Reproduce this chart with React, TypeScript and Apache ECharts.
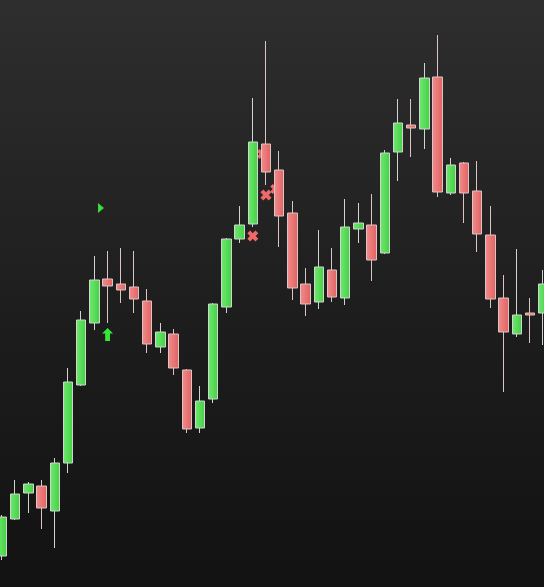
import React, { useEffect, useRef } from "react";
import * as echarts from "echarts";

// [open, close, low, high]
const ohlc: number[][] = [
  [103.1, 107.0, 102.7, 107.2],
  [106.8, 109.3, 106.7, 110.7],
  [109.4, 110.3, 107.4, 110.5],
  [110.1, 107.9, 105.8, 110.7],
  [107.6, 112.4, 103.9, 112.9],
  [112.4, 120.5, 111.4, 121.9],
  [120.2, 126.7, 120.1, 127.6],
  [126.4, 130.7, 125.7, 133.1],
  [130.8, 130.1, 126.4, 133.6],
  [130.3, 129.7, 128.4, 133.9],
  [130.0, 128.8, 127.4, 133.6],
  [128.6, 124.3, 123.4, 129.8],
  [124.0, 125.5, 123.4, 126.4],
  [125.3, 121.9, 121.2, 125.8],
  [121.7, 115.8, 115.4, 121.8],
  [115.9, 118.6, 115.4, 120.1],
  [118.8, 128.3, 118.4, 128.4],
  [128.0, 134.8, 127.4, 134.9],
  [134.8, 136.2, 134.4, 138.1],
  [136.3, 144.5, 136.0, 148.9],
  [144.3, 141.5, 140.2, 154.6],
  [141.7, 137.1, 134.0, 143.6],
  [137.4, 129.9, 128.7, 138.6],
  [130.3, 128.3, 127.1, 131.9],
  [128.5, 132.0, 127.8, 135.7],
  [131.7, 129.0, 128.5, 133.9],
  [128.9, 136.0, 128.2, 138.8],
  [135.8, 136.4, 134.4, 138.4],
  [136.2, 132.7, 130.6, 139.3],
  [133.4, 143.4, 133.3, 143.7],
  [143.5, 146.4, 140.6, 148.8],
  [146.2, 145.9, 143.0, 148.8],
  [145.8, 150.9, 143.8, 152.4],
  [151.0, 139.5, 139.0, 155.2],
  [139.4, 142.2, 139.2, 142.9],
  [142.4, 139.4, 136.4, 142.5],
  [139.6, 135.3, 133.5, 142.6],
  [135.2, 128.8, 127.9, 138.1],
  [128.9, 125.5, 119.5, 131.2],
  [125.3, 127.2, 125.0, 133.8],
  [127.4, 127.2, 124.4, 128.9],
  [127.4, 130.3, 124.2, 131.7],
];

// signal markers: [barIndex, price]
const buyArrows: number[][] = [[8, 125.25]];
const buyTriangles: number[][] = [[7.5, 137.9]];
const sellCrosses: number[][] = [
  [19, 135.1],
  [20, 139.2],
];
const hiddenCrosses: number[][] = [
  [19.7, 143.3],
  [20.7, 139.8],
];

const ARROW = "path://M5,0 L10,5.5 L7.2,5.5 L7.2,13 L2.8,13 L2.8,5.5 L0,5.5 Z";
const CROSS =
  "path://M0,2.6 L2.6,0 L5,2.4 L7.4,0 L10,2.6 L7.6,5 L10,7.4 L7.4,10 L5,7.6 L2.6,10 L0,7.4 L2.4,5 Z";
const TRI = "path://M0,0 L6,5 L0,10 Z";

export default function App() {
  const ref = useRef<HTMLDivElement>(null);
  useEffect(() => {
    document.body.style.margin = "0";
    const chart = echarts.init(ref.current!, null, { renderer: "svg" });
    const green = new echarts.graphic.LinearGradient(0, 0, 1, 0, [
      { offset: 0, color: "#6ee86e" },
      { offset: 1, color: "#45d145" },
    ]);
    const red = new echarts.graphic.LinearGradient(0, 0, 1, 0, [
      { offset: 0, color: "#f28a8a" },
      { offset: 1, color: "#e06464" },
    ]);
    const candles = ohlc.map((d, i) => [i, d[0], d[1], d[2], d[3]]);
    chart.setOption({
      animation: false,
      backgroundColor: "transparent",
      grid: { left: 0, right: 0, top: 0, bottom: 0 },
      xAxis: {
        type: "value",
        min: -0.15,
        max: 41.06,
        show: false,
        splitLine: { show: false },
      },
      yAxis: {
        type: "value",
        min: 100,
        max: 158.7,
        show: false,
        splitLine: { show: false },
      },
      series: [
        {
          type: "scatter",
          data: hiddenCrosses,
          symbol: CROSS,
          symbolSize: 10,
          itemStyle: { color: "#ef6a6a", opacity: 1 },
          z: 1,
        },
        {
          type: "candlestick",
          data: candles,
          encode: { x: 0, y: [1, 2, 3, 4] },
          barWidth: 10,
          z: 2,
          itemStyle: {
            color: green,
            color0: red,
            borderColor: "#cfd6cf",
            borderColor0: "#dcc4c4",
            borderWidth: 1,
          },
        },
        {
          type: "scatter",
          data: buyArrows,
          symbol: ARROW,
          symbolSize: [11, 13],
          itemStyle: { color: "#36e636", opacity: 1 },
          z: 3,
        },
        {
          type: "scatter",
          data: buyTriangles,
          symbol: TRI,
          symbolSize: [6, 10],
          itemStyle: { color: "#3cdc3c", opacity: 1 },
          z: 3,
        },
        {
          type: "scatter",
          data: sellCrosses,
          symbol: CROSS,
          symbolSize: 11,
          itemStyle: { color: "#f06868", opacity: 1 },
          z: 3,
        },
      ],
    });
    return () => chart.dispose();
  }, []);
  return (
    <div
      ref={ref}
      style={{
        position: "absolute",
        left: 0,
        top: 0,
        width: 544,
        height: 587,
        background: "linear-gradient(to bottom, #2e2e2e 0%, #1d1d1d 55%, #121212 100%)",
      }}
    />
  );
}
